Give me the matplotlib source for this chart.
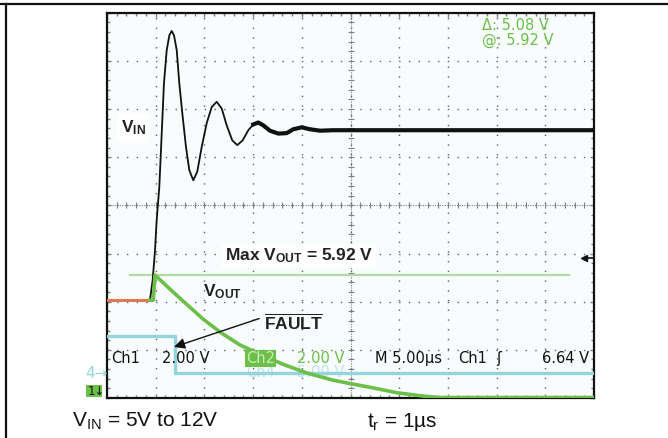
import numpy as np
import matplotlib.pyplot as plt
from matplotlib.lines import Line2D
from matplotlib.patches import Rectangle

plt.rcParams['font.family'] = ['Liberation Sans', 'DejaVu Sans']
plt.rcParams['mathtext.fontset'] = 'custom'
plt.rcParams['mathtext.rm'] = 'Liberation Sans'
plt.rcParams['mathtext.bf'] = 'Liberation Sans:bold'
plt.rcParams['mathtext.it'] = 'Liberation Sans:italic'

# Ecran : 5 us/div sur 10 divisions, 8 divisions verticales (0 = bas de l'ecran)
# Ch1 : V_IN (noir)
vin_t = [0.0, 4.41, 4.69, 4.93, 5.10, 5.37, 5.62, 5.85, 6.13, 6.40, 6.64, 6.88,
         7.16, 7.42, 7.77, 8.11, 8.45, 8.86, 9.27, 9.72, 10.24, 10.75, 11.26,
         11.78, 12.29, 12.86, 13.38, 13.93, 14.51, 15.02, 15.53, 16.05, 16.73,
         17.59, 18.45, 19.13, 19.99, 20.84, 21.87, 23.2, 49.9]
vin_y = [2.03, 2.03, 2.45, 3.07, 3.69, 4.38, 5.50, 6.54, 7.22, 7.53, 7.62, 7.53,
         7.22, 6.54, 5.84, 5.21, 4.73, 4.52, 4.70, 5.21, 5.71, 6.04, 6.15,
         6.01, 5.66, 5.35, 5.25, 5.35, 5.56, 5.68, 5.72, 5.66, 5.55,
         5.49, 5.50, 5.58, 5.62, 5.58, 5.55, 5.56, 5.56]

# Ch2 : V_OUT (vert)
vout_t = [4.41, 4.75, 4.93, 7.49, 9.86, 11.60, 13.66, 15.71, 18.07, 20.50,
          23.20, 24.95, 27.31, 29.74, 32.44, 34.19, 50.0]
vout_y = [2.03, 2.03, 2.55, 2.07, 1.64, 1.37, 1.10, 0.91, 0.70, 0.52,
          0.37, 0.30, 0.21, 0.11, 0.04, 0.01, 0.01]

# Ch3 : trace orange avant le front
ch3_t = [0.0, 4.41]
ch3_y = [2.03, 2.03]

# Ch4 : FAULT (cyan)
fault_t = [0.0, 6.98, 6.98, 50.0]
fault_y = [1.29, 1.29, 0.52, 0.52]

# curseur Max V_OUT et niveau de declenchement
cursor_t = [2.36, 47.4]
cursor_level = 2.55
trig_level = 2.90

fig = plt.figure(figsize=(6.68, 4.38), dpi=100)
ax = fig.add_axes([107 / 668, 1 - 398 / 438, 487 / 668, 385.3 / 438])
ax.set_facecolor('#f8fcfc')
ax.set_xlim(0, 50)
ax.set_ylim(0, 8)

# grille pointillee
ax.set_xticks(np.arange(0, 50.1, 5))
ax.set_yticks(np.arange(0, 8.1, 1))
ax.set_xticks(np.arange(0, 50.1, 1), minor=True)
ax.set_yticks(np.arange(0, 8.1, 0.2), minor=True)
ax.grid(True, which='major', color='#606060', lw=1.0, ls=(0, (1, 6)))
ax.tick_params(which='both', direction='in', top=True, right=True,
               labelbottom=False, labelleft=False, color='#808080')
ax.tick_params(which='major', length=3, width=1)
ax.tick_params(which='minor', length=2.5, width=1)
for s in ax.spines.values():
    s.set_linewidth(1.6)
    s.set_color('#111111')

# axes centraux avec graduations
ax.axvline(25, color='#808080', lw=0.8, ls=(0, (1, 1.2)))
ax.axhline(4, color='#808080', lw=0.8, ls=(0, (1, 1.2)))
ax.plot(np.full(41, 25.0), np.arange(0, 8.01, 0.2), ls='none', marker='_',
        ms=4, color='#808080', mew=0.8)
ax.plot(np.arange(0, 50.01, 1), np.full(51, 4.0), ls='none', marker='|',
        ms=4, color='#808080', mew=0.8)

# traces
ax.plot(cursor_t, [cursor_level] * 2, color='#b2dca4', lw=1.6, zorder=3)
ax.plot(fault_t, fault_y, color='#96d4dc', lw=2.4, zorder=4)
ax.plot(vin_t, vin_y, color='#111111', lw=1.3, zorder=5)
ax.plot(vin_t[29:], vin_y[29:], color='#111111', lw=3.0, zorder=5)
ax.plot(ch3_t, ch3_y, color='#e07a52', lw=2.2, zorder=6)
ax.plot(vout_t, vout_y, color='#6cbf48', lw=2.6, zorder=6)
ax.plot([49.0], [trig_level], marker='<', ms=5, color='#111111', zorder=7,
        clip_on=False)
ax.plot([49.0, 50.0], [trig_level] * 2, color='#111111', lw=1.2, zorder=7,
        clip_on=False)

# annotations
lab = dict(fontsize=12.5, fontweight='bold', color='#222222', zorder=8)
ax.text(1.45, 5.51, r'V$_{\mathbf{IN}}$', va='baseline', ha='left',
        bbox=dict(facecolor='white', edgecolor='none', pad=3), **lab)
ax.text(12.1, 2.85, r'Max V$_{\mathbf{OUT}}$ = 5.92 V', va='baseline', ha='left',
        bbox=dict(facecolor='white', edgecolor='none', pad=2), **lab)
ax.text(9.9, 2.12, r'V$_{\mathbf{OUT}}$', va='baseline', ha='left', **lab)
ax.text(16.15, 1.43, r'$\overline{\mathbf{FAULT}}$', va='baseline', ha='left', **lab)
ax.annotate('', xy=(6.88, 1.06), xytext=(15.63, 1.65),
            arrowprops=dict(arrowstyle='-|>', color='#111111', lw=1.0,
                            mutation_scale=16, shrinkA=0, shrinkB=0), zorder=8)

# textes de l'oscilloscope
sc = dict(family='DejaVu Sans', fontsize=10.5, va='baseline', ha='left', zorder=9)
ax.text(0.45, 0.73, 'Ch1', color='#111111', **sc)
ax.text(5.6, 0.73, '2.00 V', color='#111111', **sc)
ax.add_patch(Rectangle((14.2, 0.65), 3.15, 0.34, facecolor='#6cbf48',
                       edgecolor='none', zorder=8))
ax.text(14.3, 0.73, 'Ch2', color='#c8f0b4', **sc)
ax.text(19.5, 0.73, '2.00 V', color='#6cbf48', **sc)
ax.text(27.5, 0.73, 'M 5.00µs', color='#111111', **sc)
ax.text(36.1, 0.73, 'Ch1', color='#111111', **sc)
ax.text(40.0, 0.73, 'ʃ', color='#111111', **sc)
ax.text(49.5, 0.73, '6.64 V', color='#111111',
        **{**sc, 'ha': 'right'})
ax.text(14.3, 0.43, 'Ch4', color='#bfe6ec', **{**sc, 'zorder': 3})
ax.text(19.5, 0.43, '5.00 V', color='#bfe6ec', **{**sc, 'zorder': 3})
cur = dict(family='DejaVu Sans', fontsize=10.5, va='baseline', ha='left',
           color='#6cbf48', zorder=9)
ax.text(38.5, 7.65, 'Δ: 5.08 V', **cur)
ax.text(38.5, 7.34, '@: 5.92 V', **cur)

# reperes de masse a gauche de l'ecran
ax.text(-2.2, 0.42, '4→', color='#96d4dc', clip_on=False,
        **{**sc, 'fontsize': 11})
ax.add_patch(Rectangle((-2.15, 0.02), 1.65, 0.24, facecolor='#6cbf48',
                       edgecolor='none', clip_on=False, zorder=8))
ax.text(-2.0, 0.06, '1↓', color='#111111', clip_on=False,
        **{**sc, 'fontsize': 8.5})

# legendes sous l'ecran
fig.text(72 / 668, 1 - 426.7 / 438, r'V$_{\mathrm{IN}}$ = 5V to 12V',
         fontsize=15, va='baseline', ha='left', color='#111111')
fig.text(367 / 668, 1 - 427 / 438, r't$_{\mathrm{r}}$ = 1µs',
         fontsize=15, va='baseline', ha='left', color='#111111')

# cadre exterieur
fig.add_artist(Line2D([0, 1], [1 - 3.5 / 438] * 2, color='#111111', lw=1.6))
fig.add_artist(Line2D([6 / 668] * 2, [0, 1 - 3.5 / 438], color='#111111', lw=1.6))

fig.savefig('out.png', dpi=100)
